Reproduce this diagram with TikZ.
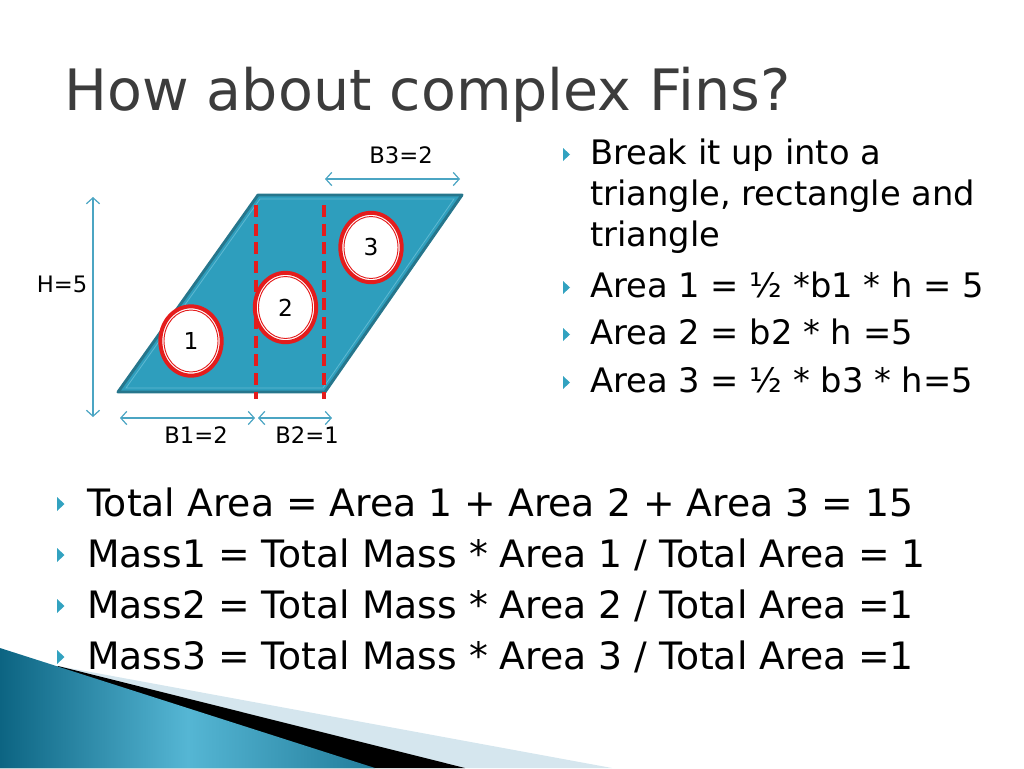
\documentclass[tikz,border=0pt]{standalone}
\usepackage{fontspec}
\setmainfont{DejaVu Sans}
\usetikzlibrary{arrows.meta,shapes.geometric}
\definecolor{finfill}{RGB}{46,158,189}
\definecolor{finedge}{RGB}{38,118,140}
\definecolor{finhi}{RGB}{95,185,210}
\definecolor{dimc}{RGB}{75,165,195}
\definecolor{redc}{RGB}{228,28,28}
\definecolor{bulc}{RGB}{50,162,192}
\definecolor{titlec}{RGB}{60,60,60}
\definecolor{lightb}{RGB}{213,230,238}
\definecolor{tealdark}{RGB}{12,100,130}
\definecolor{teallight}{RGB}{85,182,212}
\tikzset{
  titletxt/.style={anchor=base west, inner sep=0, text=titlec, font=\fontsize{42.8}{46}\selectfont},
  righttxt/.style={anchor=base west, inner sep=0, font=\fontsize{25.3}{28}\selectfont},
  bottxt/.style={anchor=base west, inner sep=0, font=\fontsize{28.3}{31}\selectfont},
  dimlbl/.style={anchor=base, inner sep=0, font=\fontsize{17}{19}\selectfont},
  dimline/.style={dimc, line width=0.9pt, {Straight Barb[length=4.5pt,width=10pt]}-{Straight Barb[length=4.5pt,width=10pt]}},
  cutline/.style={draw=redc, line width=3pt, dash pattern=on 9pt off 5pt},
  ring/.style={ellipse, draw=redc, line width=3pt, fill=white, inner sep=0, minimum width=46pt, minimum height=52pt, font=\fontsize{17.5}{19}\selectfont},
  innerring/.style={redc, line width=0.7pt},
  bul/.style={fill=bulc, draw=none}
}
\begin{document}
\begin{tikzpicture}[x=0.75pt,y=-0.75pt]
\useasboundingbox (0,0) rectangle (1024,768);
% bottom-left decoration
\fill[lightb] (58,666) -- (612,768) -- (0,768) -- cycle;
\fill[black] (58,666) -- (465,768) -- (0,768) -- cycle;
\shade[left color=tealdark, right color=tealdark!70!teallight, middle color=teallight] (0,648) -- (375,768) -- (0,768) -- cycle;

% title
\node[titletxt] (title) at (64,110) {How about complex Fins?};

% fin
\coordinate (BL) at (118,392);
\coordinate (BR) at (325,392);
\coordinate (TR) at (462,195);
\coordinate (TL) at (258,195);
\filldraw[fill=finfill, draw=finedge, line width=2.2pt, line join=round] (BL) -- (BR) -- (TR) -- (TL) -- cycle;
\draw[finhi, line width=0.6pt] (126,388) -- (323,388) -- (454,199) -- (260,199) -- cycle;

% cut lines
\coordinate (c1t) at (256,205);
\coordinate (c1b) at (256,399);
\coordinate (c2t) at (324,205);
\coordinate (c2b) at (324,399);
\draw[cutline] (c1t) -- (c1b);
\draw[cutline] (c2t) -- (c2b);

% rings
\node[ring] (r1) at (191,341) {1};
\node[ring] (r2) at (285.5,307.5) {2};
\node[ring] (r3) at (371,247.5) {3};
\draw[innerring] (r1.center) ellipse [x radius=27, y radius=31];
\draw[innerring] (r2.center) ellipse [x radius=27, y radius=31];
\draw[innerring] (r3.center) ellipse [x radius=27, y radius=31];

% dimension arrows
\coordinate (hA) at (93,197);
\coordinate (hB) at (93,417);
\coordinate (b1A) at (120,418);
\coordinate (b1B) at (255,418);
\coordinate (b2A) at (258,418);
\coordinate (b2B) at (332,418);
\coordinate (b3A) at (325,179);
\coordinate (b3B) at (460,179);
\draw[dimline] (hA) -- (hB);
\draw[dimline] (b1A) -- (b1B);
\draw[dimline] (b2A) -- (b2B);
\draw[dimline] (b3A) -- (b3B);
\node[dimlbl] (lH) at (62,292) {H=5};
\node[dimlbl] (lB1) at (196,443) {B1=2};
\node[dimlbl] (lB2) at (307,443) {B2=1};
\node[dimlbl] (lB3) at (401,163) {B3=2};

% right bullets
\foreach \b in {164,297,344,392} {
  \fill[bul] (563,\b-16) -- (563,\b-3) -- (570,\b-9.5) -- cycle;
}
\node[righttxt] (r1t) at (590,164) {Break it up into a};
\node[righttxt] (r2t) at (590,205) {triangle, rectangle and};
\node[righttxt] (r3t) at (590,246) {triangle};
\node[righttxt] (r4t) at (590,297) {Area 1 = ½ *b1 * h = 5};
\node[righttxt] (r5t) at (590,344) {Area 2 = b2 * h =5};
\node[righttxt] (r6t) at (590,392) {Area 3 = ½ * b3 * h=5};

% bottom bullets
\foreach \b in {516,567,618,669} {
  \fill[bul] (57,\b-19) -- (57,\b-5) -- (64.5,\b-12) -- cycle;
}
\node[bottxt] (t1) at (87,516) {Total Area = Area 1 + Area 2 + Area 3 = 15};
\node[bottxt] (t2) at (87,567) {Mass1 = Total Mass * Area 1 / Total Area = 1};
\node[bottxt] (t3) at (87,618) {Mass2 = Total Mass * Area 2 / Total Area =1};
\node[bottxt] (t4) at (87,669) {Mass3 = Total Mass * Area 3 / Total Area =1};
\end{tikzpicture}
\end{document}
